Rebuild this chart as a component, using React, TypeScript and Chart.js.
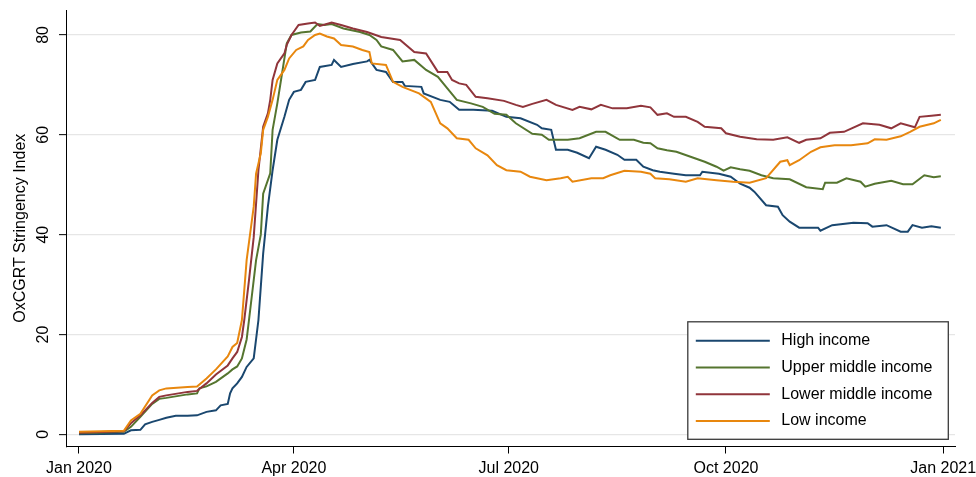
import { useEffect, useRef } from 'react';
import { Chart, registerables } from 'chart.js';

Chart.register(...registerables);

// x values are days since 1 Jan 2020
const xTickDays = [0, 91, 182, 274, 366];
const xTickLabels = ['Jan 2020', 'Apr 2020', 'Jul 2020', 'Oct 2020', 'Jan 2021'];
const yTickValues = [0, 20, 40, 60, 80];

const seriesNames = ['High income', 'Upper middle income', 'Lower middle income', 'Low income'];
const seriesColors = ['#1a476f', '#55752f', '#90353b', '#e8870e'];

const highIncome: [number, number][] = [
  [0, 0], [19, 0.1], [22, 0.8], [26, 0.9], [28, 2.0], [31, 2.5], [34, 2.9], [37, 3.3], [41, 3.7], [46, 3.7],
  [50, 3.8], [54, 4.5], [58, 4.8], [60, 5.8], [63, 6.1], [64, 8.2], [65, 9.2], [67, 10.2], [69, 11.5], [71, 13.5],
  [74, 15.2], [76, 22.9], [78, 36.2], [80, 45.6], [82, 52.9], [84, 59], [87, 63.6], [89, 67], [91, 68.6], [94, 69],
  [96, 70.6], [100, 71], [102, 73.6], [107, 74], [108, 75], [111, 73.6], [116, 74.2], [122, 74.7], [123, 75], [126, 73],
  [130, 72.6], [133, 70.6], [137, 70.6], [138, 69.8], [145, 69.6], [146, 68.3], [153, 67], [157, 66.6], [161, 65], [167, 65],
  [175, 64.8], [181, 63.6], [187, 63.3], [194, 62], [196, 61.3], [200, 61], [202, 57], [207, 57], [211, 56.4], [216, 55.3],
  [219, 57.6], [223, 57], [228, 56], [231, 55], [236, 55], [239, 53.6], [243, 52.9], [246, 52.6], [252, 52.2], [257, 51.9],
  [263, 51.9], [264, 52.6], [271, 52.2], [276, 51.6], [280, 50.2], [284, 49.4], [286, 48.6], [291, 45.9], [296, 45.6], [298, 43.9],
  [301, 42.6], [305, 41.4], [313, 41.4], [314, 40.8], [319, 41.9], [328, 42.4], [334, 42.3], [336, 41.6], [342, 41.9], [348, 40.6],
  [351, 40.6], [353, 41.9], [357, 41.4], [361, 41.7], [365, 41.4],
];

const upperMiddleIncome: [number, number][] = [
  [0, 0.2], [19, 0.5], [22, 1.5], [26, 3.5], [31, 6.1], [34, 7.1], [37, 7.3], [46, 8.0], [50, 8.2], [51, 9.2],
  [54, 9.6], [58, 10.5], [63, 12.2], [65, 13.0], [67, 13.6], [69, 15.2], [71, 19], [72, 22.9], [75, 34.9], [77, 40],
  [78, 48.2], [81, 52.3], [82, 61], [84, 66.3], [86, 72.3], [88, 78.3], [90, 80], [94, 80.5], [98, 80.7], [101, 82.2],
  [104, 82], [107, 82.2], [112, 81.3], [119, 80.6], [123, 80], [126, 79], [128, 77.7], [133, 77], [137, 74.7], [142, 75],
  [147, 73], [152, 71.6], [156, 69.3], [160, 67], [166, 66.3], [171, 65.6], [176, 64.2], [181, 64], [185, 62.3], [192, 60.2],
  [196, 60], [199, 59], [207, 59], [212, 59.3], [219, 60.6], [223, 60.6], [229, 59], [235, 59], [239, 58.4], [242, 58.3],
  [245, 57.3], [249, 56.9], [253, 56.6], [259, 55.6], [265, 54.6], [270, 53.6], [273, 52.8], [276, 53.5], [280, 53.1], [284, 52.8],
  [289, 51.9], [294, 51.3], [301, 51.1], [308, 49.5], [315, 49.1], [316, 50.4], [321, 50.4], [325, 51.3], [331, 50.6], [333, 49.6],
  [337, 50.2], [344, 50.8], [349, 50.1], [353, 50.1], [358, 51.9], [362, 51.5], [365, 51.7],
];

const lowerMiddleIncome: [number, number][] = [
  [0, 0.3], [19, 0.6], [22, 2.2], [26, 3.8], [31, 6.3], [34, 7.5], [37, 7.8], [46, 8.5], [50, 8.7], [54, 10.2],
  [58, 12.0], [63, 13.8], [65, 15.2], [67, 16.5], [69, 19.5], [70, 22.9], [72, 30.9], [74, 39.5], [76, 52.9], [78, 61.6],
  [80, 64.3], [81, 67], [82, 71], [84, 74.3], [87, 76.3], [88, 78], [90, 80], [93, 82], [97, 82.3], [100, 82.5],
  [102, 81.8], [107, 82.5], [111, 82], [116, 81.3], [122, 80.6], [128, 79.6], [136, 79], [142, 76.6], [147, 76.3], [152, 72.6],
  [156, 72.6], [158, 71], [161, 70.3], [164, 70], [168, 67.6], [173, 67.3], [180, 66.8], [185, 66], [188, 65.6], [192, 66.2],
  [198, 67], [202, 66], [209, 65], [212, 65.6], [217, 65.1], [221, 66], [226, 65.3], [232, 65.3], [238, 65.8], [242, 65.5],
  [245, 64], [249, 64.3], [252, 63.6], [257, 63.6], [262, 62.6], [265, 61.6], [272, 61.3], [274, 60.3], [280, 59.6], [287, 59.1],
  [294, 59], [300, 59.5], [305, 58.4], [308, 59], [314, 59.3], [318, 60.4], [324, 60.6], [332, 62.3], [339, 62], [344, 61.3],
  [348, 62.3], [354, 61.5], [356, 63.6], [361, 63.8], [365, 64],
];

const lowIncome: [number, number][] = [
  [0, 0.5], [19, 0.7], [22, 2.8], [26, 4.1], [31, 7.8], [34, 8.8], [37, 9.2], [46, 9.5], [50, 9.6], [54, 11.2],
  [58, 13.0], [63, 15.6], [65, 17.5], [67, 18.3], [69, 22.9], [71, 34.9], [74, 45.6], [75, 52.2], [77, 56.3], [78, 61],
  [80, 63.6], [82, 67], [84, 71], [87, 73], [89, 75.3], [92, 77], [95, 77.7], [97, 79], [100, 80], [102, 80.3],
  [105, 79.7], [108, 79.3], [111, 78], [116, 77.7], [120, 77], [123, 76.6], [124, 74.3], [130, 74], [133, 70.6], [137, 69.6],
  [144, 68.3], [149, 66.6], [153, 62.3], [156, 61.3], [160, 59.3], [165, 59], [168, 57.3], [173, 55.9], [177, 53.9], [181, 52.9],
  [187, 52.6], [191, 51.6], [198, 50.9], [204, 51.3], [207, 51.6], [209, 50.6], [217, 51.3], [222, 51.3], [225, 51.9], [231, 52.8],
  [238, 52.6], [242, 52.2], [244, 51.3], [250, 51.1], [257, 50.6], [262, 51.3], [270, 50.9], [277, 50.6], [284, 50.4], [291, 51.3],
  [297, 54.6], [300, 54.9], [301, 53.9], [305, 54.9], [310, 56.6], [314, 57.5], [320, 57.9], [327, 57.9], [334, 58.3], [337, 59.1],
  [342, 59], [348, 59.7], [352, 60.6], [356, 61.6], [362, 62.3], [365, 63],
];

const seriesData = [highIncome, upperMiddleIncome, lowerMiddleIncome, lowIncome];
const yTitle = 'OxCGRT Stringency Index';

const FONT = "'Liberation Sans', Arial, Helvetica, sans-serif";

export default function App() {
  const ref = useRef<HTMLCanvasElement>(null);

  useEffect(() => {
    document.body.style.margin = '0';
    const canvas = ref.current;
    if (!canvas) return;

    const yLabelPlugin = {
      id: 'yLabels',
      afterDraw(chart: any) {
        const ctx = chart.ctx;
        const ys = chart.scales.y;
        const ca = chart.chartArea;
        ctx.save();
        ctx.font = `16px ${FONT}`;
        ctx.fillStyle = '#000';
        ctx.textAlign = 'center';
        ctx.textBaseline = 'middle';
        for (const t of ys.ticks) {
          const py = ys.getPixelForValue(t.value);
          ctx.save();
          ctx.translate(ca.left - 22.5, py);
          ctx.rotate(-Math.PI / 2);
          ctx.fillText(String(t.value), 0, 0);
          ctx.restore();
        }
        ctx.save();
        ctx.translate(20.5, (ca.top + ca.bottom) / 2);
        ctx.rotate(-Math.PI / 2);
        ctx.fillText(yTitle, 0, 0);
        ctx.restore();
        ctx.restore();
      },
    };

    const legendPlugin = {
      id: 'boxLegend',
      afterDraw(chart: any) {
        const ctx = chart.ctx;
        const ca = chart.chartArea;
        const w = 260.5;
        const h = 117.5;
        const x0 = ca.right - 6.7 - w;
        const y0 = ca.bottom - 7.2 - h;
        ctx.save();
        ctx.fillStyle = '#fff';
        ctx.fillRect(x0, y0, w, h);
        ctx.strokeStyle = '#3a3a3a';
        ctx.lineWidth = 1.3;
        ctx.strokeRect(x0, y0, w, h);
        ctx.font = `16px ${FONT}`;
        ctx.textAlign = 'left';
        ctx.textBaseline = 'middle';
        chart.data.datasets.forEach((ds: any, i: number) => {
          const cy = y0 + 19 + i * 26.7;
          ctx.strokeStyle = ds.borderColor;
          ctx.lineWidth = 2;
          ctx.beginPath();
          ctx.moveTo(x0 + 8, cy);
          ctx.lineTo(x0 + 82, cy);
          ctx.stroke();
          ctx.fillStyle = '#000';
          ctx.fillText(ds.label, x0 + 93.5, cy);
        });
        ctx.restore();
      },
    };

    const chart = new Chart(canvas, {
      type: 'line',
      data: {
        datasets: seriesData.map((arr, i) => ({
          label: seriesNames[i],
          data: arr.map(([x, y]) => ({ x, y })),
          borderColor: seriesColors[i],
          backgroundColor: seriesColors[i],
          borderWidth: 2,
          pointRadius: 0,
          tension: 0,
          fill: false,
          order: 4 - i,
        })),
      },
      options: {
        responsive: false,
        animation: false,
        events: [],
        layout: { padding: { top: 10, right: 21, left: 0, bottom: 0 } },
        plugins: {
          legend: { display: false },
          tooltip: { enabled: false },
          title: { display: false },
        },
        scales: {
          x: {
            type: 'linear',
            min: -5.5,
            max: 371,
            afterBuildTicks: (s: any) => {
              s.ticks = xTickDays.map((v) => ({ value: v }));
            },
            afterFit: (s: any) => {
              s.height = 30.5;
              s.paddingLeft = 0;
              s.paddingRight = 0;
            },
            ticks: {
              autoSkip: false,
              maxRotation: 0,
              minRotation: 0,
              padding: 5,
              color: '#000',
              font: { family: FONT, size: 16 },
              callback: (v: any) => {
                const i = xTickDays.indexOf(Number(v));
                return i >= 0 ? xTickLabels[i] : '';
              },
            },
            grid: {
              drawOnChartArea: false,
              drawTicks: true,
              tickLength: 7,
              tickColor: '#000',
              tickWidth: 1,
            },
            border: { display: true, color: '#000', width: 1 },
          },
          y: {
            type: 'linear',
            min: -2.44,
            max: 85,
            afterBuildTicks: (s: any) => {
              s.ticks = yTickValues.map((v) => ({ value: v }));
            },
            afterFit: (s: any) => {
              s.width = 66;
              s.paddingTop = 0;
              s.paddingBottom = 0;
            },
            ticks: { display: false },
            grid: {
              color: '#e6e6e6',
              lineWidth: 1.3,
              drawTicks: true,
              tickLength: 7,
              tickColor: '#000',
              tickWidth: 1,
            },
            border: { display: true, color: '#000', width: 1 },
          },
        },
      },
      plugins: [yLabelPlugin, legendPlugin],
    });

    return () => chart.destroy();
  }, []);

  return <canvas ref={ref} width={976} height={477} style={{ display: 'block' }} />;
}
